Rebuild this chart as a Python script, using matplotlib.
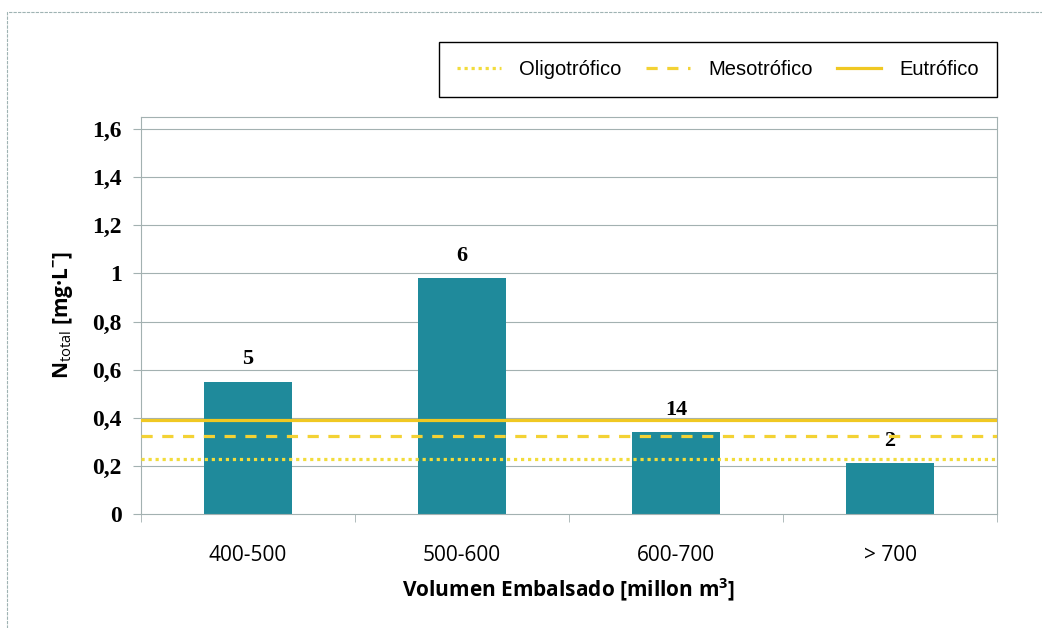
import matplotlib
matplotlib.use("Agg")
import matplotlib.pyplot as plt
from matplotlib.patches import Rectangle

# Datos
categorias = ["400-500", "500-600", "600-700", "> 700"]
n_total = [0.55, 0.98, 0.34, 0.21]
n_muestras = ["5", "6", "14", "2"]

niveles = ["Oligotrófico", "Mesotrófico", "Eutrófico"]
valores_nivel = [0.23, 0.325, 0.39]
estilos_nivel = [(0, (1, 1.2)), (0, (3.5, 3)), "-"]
colores_nivel = ["#f2dc3c", "#f3d234", "#f0c822"]

ticks_y = [0, 0.2, 0.4, 0.6, 0.8, 1.0, 1.2, 1.4, 1.6]

plt.rcParams["mathtext.fontset"] = "custom"
plt.rcParams["mathtext.rm"] = "Open Sans"
plt.rcParams["mathtext.bf"] = "Open Sans:bold"

fig = plt.figure(figsize=(10.42, 6.28), dpi=100)

# Marco exterior del gráfico (cortado a la derecha y abajo)
fig.patches.append(Rectangle((7 / 1042, -0.1), 1.2, 1 - 12 / 628 + 0.1,
                             transform=fig.transFigure, fill=False,
                             edgecolor="#9fb3b3", linewidth=0.8,
                             linestyle=(0, (3, 1))))

ax = fig.add_axes([141 / 1042, 1 - 514 / 628, 856 / 1042, 397 / 628])

x = range(len(categorias))
ax.bar(x, n_total, width=0.41, color="#1f8a9b", zorder=2)

for i, etiqueta in enumerate(n_muestras):
    ax.annotate(etiqueta, (i, n_total[i]), xytext=(0, 9),
                textcoords="offset points", ha="center", va="bottom",
                fontsize=16, fontweight="bold", family="Liberation Serif")

lineas = []
for nombre, valor, estilo, color in zip(niveles, valores_nivel,
                                        estilos_nivel, colores_nivel):
    l = ax.axhline(valor, color=color, linestyle=estilo, linewidth=2.3,
                   zorder=3, label=nombre)
    lineas.append(l)

ax.set_xlim(-0.5, len(categorias) - 0.5)
ax.set_ylim(0, 1.65)

ax.set_yticks(ticks_y)
ax.set_yticklabels([("%g" % t).replace(".", ",") for t in ticks_y],
                   fontsize=17, fontweight="bold", family="Liberation Serif")
for t in ticks_y[1:]:
    ax.axhline(t, color="#a3b1b1", linewidth=0.8, zorder=1)

ax.set_xticks(list(x))
ax.set_xticklabels(categorias, fontsize=15, family="Open Sans")
ax.set_xticks([i + 0.5 for i in range(-1, len(categorias))], minor=True)
ax.tick_params(axis="x", which="major", length=0, pad=22)
ax.tick_params(axis="x", which="minor", length=6, color="#a3b1b1")
ax.tick_params(axis="y", length=6, color="#a3b1b1", pad=8)

for lado in ["top", "right", "left", "bottom"]:
    ax.spines[lado].set_color("#a3b1b1")
    ax.spines[lado].set_linewidth(0.8)

ax.set_xlabel("Volumen Embalsado [millon m$^{\\mathbf{3}}$]", fontsize=15,
              fontweight="bold", family="Open Sans", labelpad=8)
ax.set_ylabel("N$_{\\mathrm{total}}$ [mg·L$^{\\mathbf{-}}$]", fontsize=15,
              fontweight="bold", family="Open Sans", labelpad=12)

ley = fig.legend(handles=lineas, loc="upper right", ncol=3,
                 bbox_to_anchor=(997 / 1042, 1 - 42 / 628),
                 borderaxespad=0,
                 frameon=True, fancybox=False, edgecolor="black",
                 framealpha=1, prop={"family": "Liberation Sans", "size": 14.5},
                 handlelength=2.2, columnspacing=1.2, borderpad=0.9,
                 handletextpad=0.9)
ley.get_frame().set_linewidth(1.0)

fig.savefig("out.png", dpi=100)
